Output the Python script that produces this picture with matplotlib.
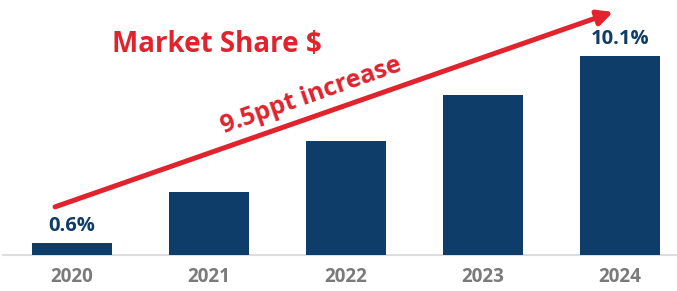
import matplotlib.pyplot as plt

years = ["2020", "2021", "2022", "2023", "2024"]
share = [0.6, 3.2, 5.8, 8.1, 10.1]
shown_labels = {0: "0.6%", 4: "10.1%"}
title = "Market Share $"
arrow_text = "9.5ppt increase"

navy = "#0f3d69"
red = "#e0232c"
grey = "#7a7a7a"

plt.rcParams['font.family'] = ['Open Sans', 'DejaVu Sans']

fig = plt.figure(figsize=(6.77, 2.91), dpi=100)
ax = fig.add_axes([0, 0, 1, 1])
ax.set_xlim(-0.526, 4.416)
ax.set_ylim(-1.83, 12.94)
ax.axis('off')

x = range(len(years))
ax.bar(x, share, width=0.58, color=navy, zorder=2)
ax.axhline(0, xmin=0.005, xmax=1, color="#dddddd", lw=1.5, zorder=1)

for i, yr in enumerate(years):
    ax.text(i, -1.12, yr, ha='center', va='center', fontsize=13.5,
            fontweight='bold', color=grey)
for i, lab in shown_labels.items():
    ax.annotate(lab, (i, share[i]), xytext=(0, 12.5), textcoords='offset points',
                ha='center', va='center', fontsize=14.5, fontweight='bold', color=navy)

ax.text(1.06, 10.66, title, ha='center', va='center', fontsize=20,
        fontweight='bold', color=red)

# trend arrow
ax.annotate("", xy=(3.95, 12.33), xytext=(-0.124, 2.44),
            arrowprops=dict(arrowstyle="-|>,head_length=0.9,head_width=0.45",
                            color=red, lw=3.6, shrinkA=0, shrinkB=0))
ax.text(1.75, 8.1, arrow_text, ha='center', va='center', rotation=19.4,
        rotation_mode='anchor', fontsize=18, fontweight='bold', color=red)

fig.savefig("out.png", dpi=100)
